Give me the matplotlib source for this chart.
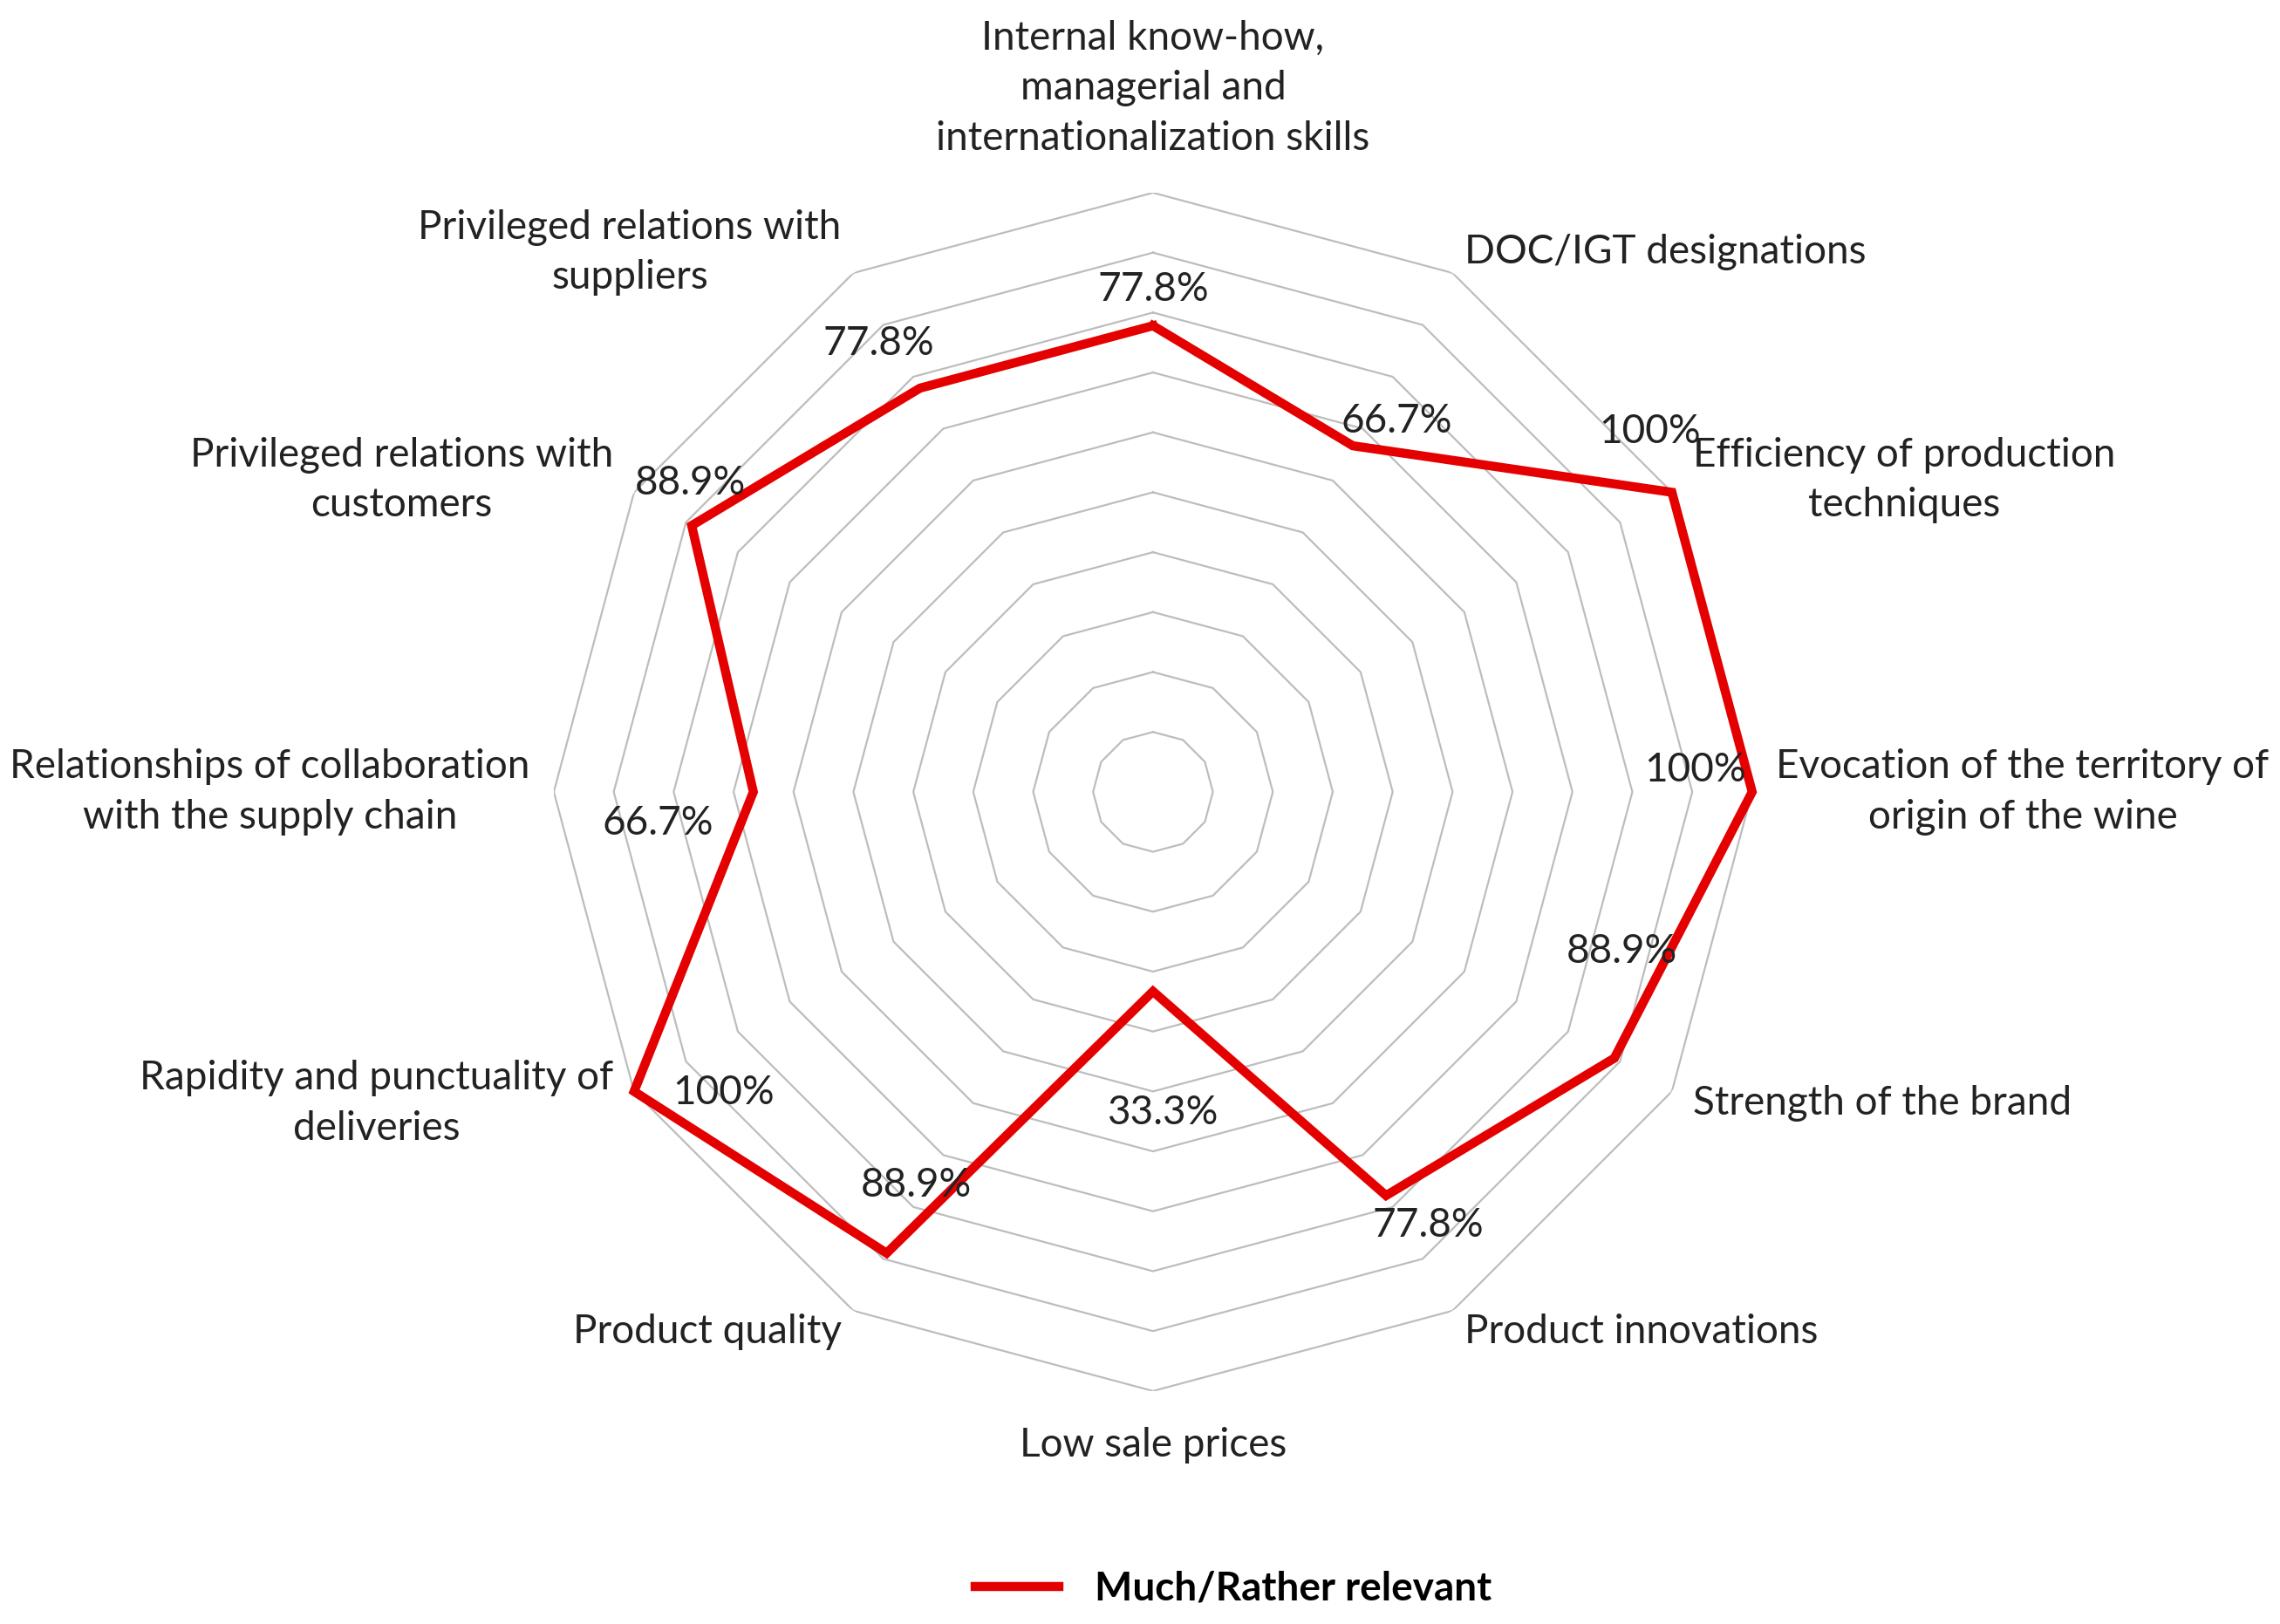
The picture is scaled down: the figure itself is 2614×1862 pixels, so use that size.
import numpy as np
import matplotlib
matplotlib.use('Agg')
from matplotlib import pyplot as plt

# categories clockwise from the top
categories = ['Internal know-how,\nmanagerial and\ninternationalization skills',
              'DOC/IGT designations',
              'Efficiency of production\ntechniques',
              'Evocation of the territory of\norigin of the wine',
              'Strength of the brand',
              'Product innovations',
              'Low sale prices',
              'Product quality',
              'Rapidity and punctuality of\ndeliveries',
              'Relationships of collaboration\nwith the supply chain',
              'Privileged relations with\ncustomers',
              'Privileged relations with\nsuppliers']
values = [77.8, 66.7, 100, 100, 88.9, 77.8, 33.3, 88.9, 100, 66.7, 88.9, 77.8]
series_name = 'Much/Rather relevant'
rings = [10, 20, 30, 40, 50, 60, 70, 80, 90, 100]

# where each value label sits relative to its point (offset points)
label_offsets = [(0, 30), (36, 20), (-18, 50), (-47, 18), (6, 88), (35, -25),
                 (8, -100), (24, 56), (74, -1), (-79, -26), (-1, 35), (-34, 37)]

plt.rcParams['font.family'] = ['Lato', 'DejaVu Sans']
txt_col = '#222222'
red = '#E50000'

fig = plt.figure(figsize=(26.14, 18.62), dpi=100)
ax = fig.add_axes([0.5057 - 0.2628, 0.5124 - 0.369, 0.5256, 0.738], projection='polar')
ax.set_theta_zero_location('N')
ax.set_theta_direction(-1)
ax.set_ylim(0, 100)
ax.grid(False)
ax.spines['polar'].set_visible(False)
ax.set_xticks([])
ax.set_yticks([])

n = len(categories)
angles = np.linspace(0, 2 * np.pi, n, endpoint=False)
closed = np.append(angles, angles[0])

# polygon grid
for r in rings:
    ax.plot(closed, [r] * (n + 1), color='#BDBDBD', lw=1.6, zorder=1)

vals = np.append(values, values[0])
line, = ax.plot(closed, vals, color=red, lw=7.5, solid_joinstyle='miter', zorder=3,
                label=series_name, clip_on=False)

# value labels
for a, v, off in zip(angles, values, label_offsets):
    ax.annotate(f'{v:g}%', xy=(a, v), xytext=off, textcoords='offset points',
                ha='center', va='center', fontsize=33, color=txt_col, zorder=4,
                annotation_clip=False)

# category labels
for a, lab in zip(angles, categories):
    s, c = np.sin(a), np.cos(a)
    if abs(s) < 0.1:
        ha = 'center'
        va = 'bottom' if c > 0 else 'top'
        rr = 106
    else:
        ha = 'left' if s > 0 else 'right'
        va = 'center'
        rr = 104
    ax.text(a, rr, lab, ha=ha, va=va, multialignment='center', fontsize=33,
            color=txt_col, linespacing=1.45, clip_on=False)

fig.legend(handles=[line], loc='center', bbox_to_anchor=(0.541, 0.0215), frameon=False,
           prop={'size': 33, 'weight': 'bold'}, handlelength=2.1, handletextpad=0.9)

plt.savefig('out.png', dpi=100, facecolor='white')
